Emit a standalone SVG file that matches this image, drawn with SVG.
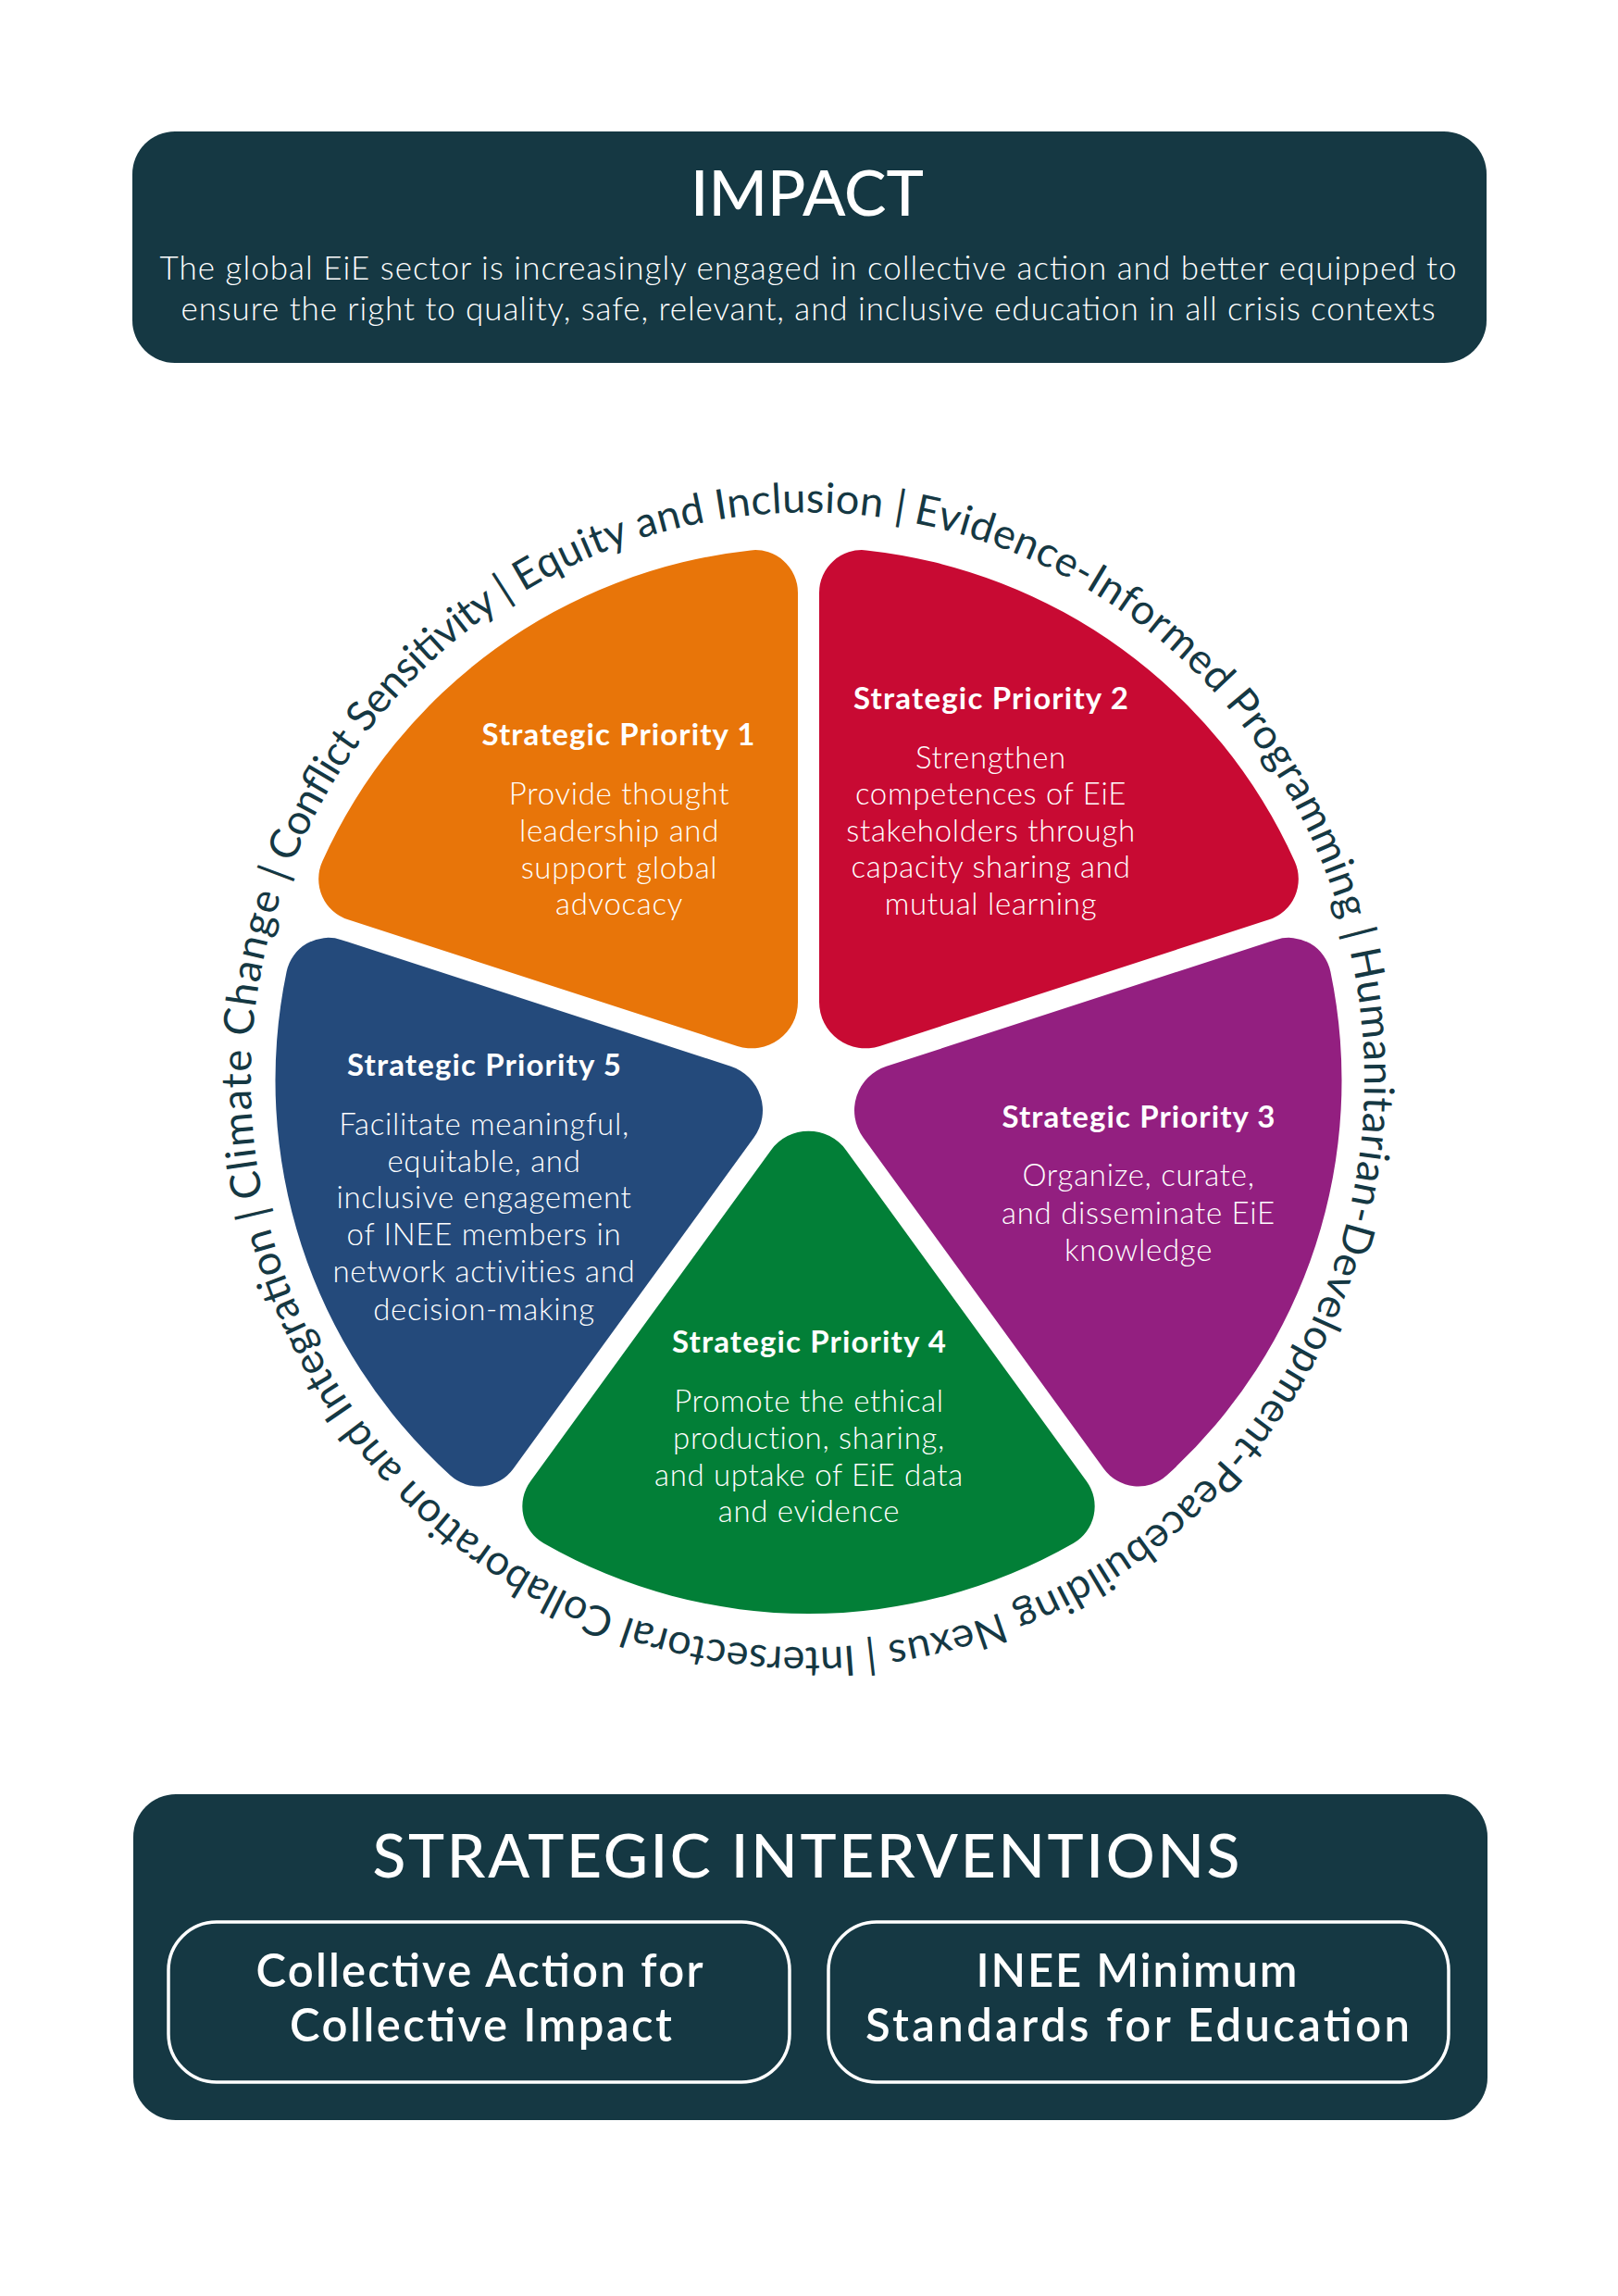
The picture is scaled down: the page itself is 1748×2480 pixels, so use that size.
<svg xmlns="http://www.w3.org/2000/svg" width="1748" height="2480" viewBox="0 0 1748 2480">
<style>
  .dark{fill:#153843}
  .ring{font-family:Lato,"Noto Sans","Liberation Sans",sans-serif;font-size:45px;fill:#153843;font-weight:400}
  .sptitle{font-family:Lato,"Noto Sans","Liberation Sans",sans-serif;font-size:33px;font-weight:700;fill:#ffffff;text-anchor:middle}
  .spbody{font-family:Lato,"Noto Sans","Liberation Sans",sans-serif;font-size:33px;font-weight:300;fill:#ffffff;text-anchor:middle;letter-spacing:0.7px}
  .boxtitle{font-family:Lato,"Noto Sans","Liberation Sans",sans-serif;font-weight:500;fill:#ffffff;text-anchor:middle}
  .impactbody{font-family:Lato,"Noto Sans","Liberation Sans",sans-serif;font-size:35px;font-weight:300;fill:#ffffff;text-anchor:middle}
  .inner{fill:none;stroke:#ffffff;stroke-width:3.5}
  .innertext{font-family:Lato,"Noto Sans","Liberation Sans",sans-serif;font-size:49px;font-weight:600;fill:#ffffff;text-anchor:middle}
</style>
<defs>
  <path id="ringPath" d="M872.5,553.5 A601.5,613 0 0 1 872.5,1779.5 A601.5,613 0 0 1 872.5,553.5 A601.5,613 0 0 1 872.5,1779.5 A601.5,613 0 0 1 872.5,553.5"/>
</defs>
<rect width="1748" height="2480" fill="#ffffff"/>

<g id="impact">
  <rect class="dark" x="143" y="142" width="1463" height="250" rx="46" ry="46"/>
  <text class="boxtitle" x="872" y="233" font-size="68" textLength="252" lengthAdjust="spacingAndGlyphs">IMPACT</text>
  <text class="impactbody"><tspan x="873" y="302" textLength="1401">The global EiE sector is increasingly engaged in collective action and better equipped to</tspan><tspan x="873" y="346" textLength="1355">ensure the right to quality, safe, relevant, and inclusive education in all crisis contexts</tspan></text>
</g>

<g id="sp1">
  <path fill="#E87509" d="M796.55,1129.9 L375.97,993.25 A46,46 0 0 1 348.23,930.62 A576,576 0 0 1 811.01,594.4 A46,46 0 0 1 862,640.13 L862,1082.35 A50,50 0 0 1 796.55,1129.9 Z"/>
  <text class="sptitle" x="668" y="805" textLength="295">Strategic Priority 1</text>
  <text class="spbody"><tspan x="669" y="869">Provide thought</tspan><tspan x="669" y="908.5">leadership and</tspan><tspan x="669" y="948.5">support global</tspan><tspan x="669" y="988">advocacy</tspan></text>
</g>

<g id="sp2">
  <path fill="#C80A33" d="M885,1082.35 L885,640.13 A46,46 0 0 1 935.99,594.4 A576,576 0 0 1 1398.77,930.62 A46,46 0 0 1 1371.03,993.25 L950.45,1129.9 A50,50 0 0 1 885,1082.35 Z"/>
  <text class="sptitle" x="1070.5" y="766" textLength="297">Strategic Priority 2</text>
  <text class="spbody"><tspan x="1070.5" y="829.5">Strengthen</tspan><tspan x="1070.5" y="869">competences of EiE</tspan><tspan x="1070.5" y="908.5">stakeholders through</tspan><tspan x="1070.5" y="948">capacity sharing and</tspan><tspan x="1070.5" y="988">mutual learning</tspan></text>
</g>

<g id="sp3">
  <path fill="#931F80" d="M957.56,1151.78 L1378.13,1015.13 A46,46 0 0 1 1437.39,1049.48 A576,576 0 0 1 1260.62,1593.52 A46,46 0 0 1 1192.49,1586.49 L932.56,1228.72 A50,50 0 0 1 957.56,1151.78 Z"/>
  <text class="sptitle" x="1230" y="1217.5" textLength="295">Strategic Priority 3</text>
  <text class="spbody"><tspan x="1230" y="1281">Organize, curate,</tspan><tspan x="1230" y="1321.5">and disseminate EiE</tspan><tspan x="1230" y="1361.5">knowledge</tspan></text>
</g>

<g id="sp4">
  <path fill="#027F37" d="M913.95,1242.24 L1173.89,1600.01 A46,46 0 0 1 1159.51,1666.98 A576,576 0 0 1 587.49,1666.98 A46,46 0 0 1 573.11,1600.01 L833.05,1242.24 A50,50 0 0 1 913.95,1242.24 Z"/>
  <text class="sptitle" x="874" y="1461" textLength="296">Strategic Priority 4</text>
  <text class="spbody"><tspan x="874" y="1525">Promote the ethical</tspan><tspan x="874" y="1564.5">production, sharing,</tspan><tspan x="874" y="1604.5">and uptake of EiE data</tspan><tspan x="874" y="1644">and evidence</tspan></text>
</g>

<g id="sp5">
  <path fill="#244A7B" d="M814.44,1228.72 L554.51,1586.49 A46,46 0 0 1 486.38,1593.52 A576,576 0 0 1 309.61,1049.48 A46,46 0 0 1 368.87,1015.13 L789.44,1151.78 A50,50 0 0 1 814.44,1228.72 Z"/>
  <text class="sptitle" x="523" y="1162" textLength="296">Strategic Priority 5</text>
  <text class="spbody"><tspan x="523" y="1225.5">Facilitate meaningful,</tspan><tspan x="523" y="1265.5">equitable, and</tspan><tspan x="523" y="1305">inclusive engagement</tspan><tspan x="523" y="1345">of INEE members in</tspan><tspan x="523" y="1385">network activities and</tspan><tspan x="523" y="1425.5">decision-making</tspan></text>
</g>

<g id="ring">
  <text class="ring"><textPath href="#ringPath" startOffset="114.5" textLength="688">Evidence-Informed Programming |</textPath></text>
  <text class="ring"><textPath href="#ringPath" startOffset="812.9" textLength="1033">Humanitarian-Development-Peacebuilding Nexus |</textPath></text>
  <text class="ring"><textPath href="#ringPath" startOffset="1856.9" textLength="867">Intersectoral Collaboration and Integration |</textPath></text>
  <text class="ring"><textPath href="#ringPath" startOffset="2734.5" textLength="356">Climate Change |</textPath></text>
  <text class="ring"><textPath href="#ringPath" startOffset="3101.2" textLength="380">Conflict Sensitivity |</textPath></text>
  <text class="ring"><textPath href="#ringPath" startOffset="3492.3" textLength="427">Equity and Inclusion |</textPath></text>
</g>

<g id="interventions">
  <rect class="dark" x="144" y="1938" width="1463" height="352" rx="46" ry="46"/>
  <text class="boxtitle" x="871" y="2028" font-size="66" textLength="937">STRATEGIC INTERVENTIONS</text>
  <g id="collective-action">
    <rect class="inner" x="182" y="2076" width="671" height="173" rx="52" ry="52"/>
    <text class="innertext"><tspan x="518" y="2146" textLength="483">Collective Action for</tspan><tspan x="519.5" y="2205" textLength="413">Collective Impact</tspan></text>
  </g>
  <g id="minimum-standards">
    <rect class="inner" x="895" y="2076" width="670" height="173" rx="52" ry="52"/>
    <text class="innertext"><tspan x="1228" y="2146" textLength="347">INEE Minimum</tspan><tspan x="1229" y="2205" textLength="588">Standards for Education</tspan></text>
  </g>
</g>
</svg>
